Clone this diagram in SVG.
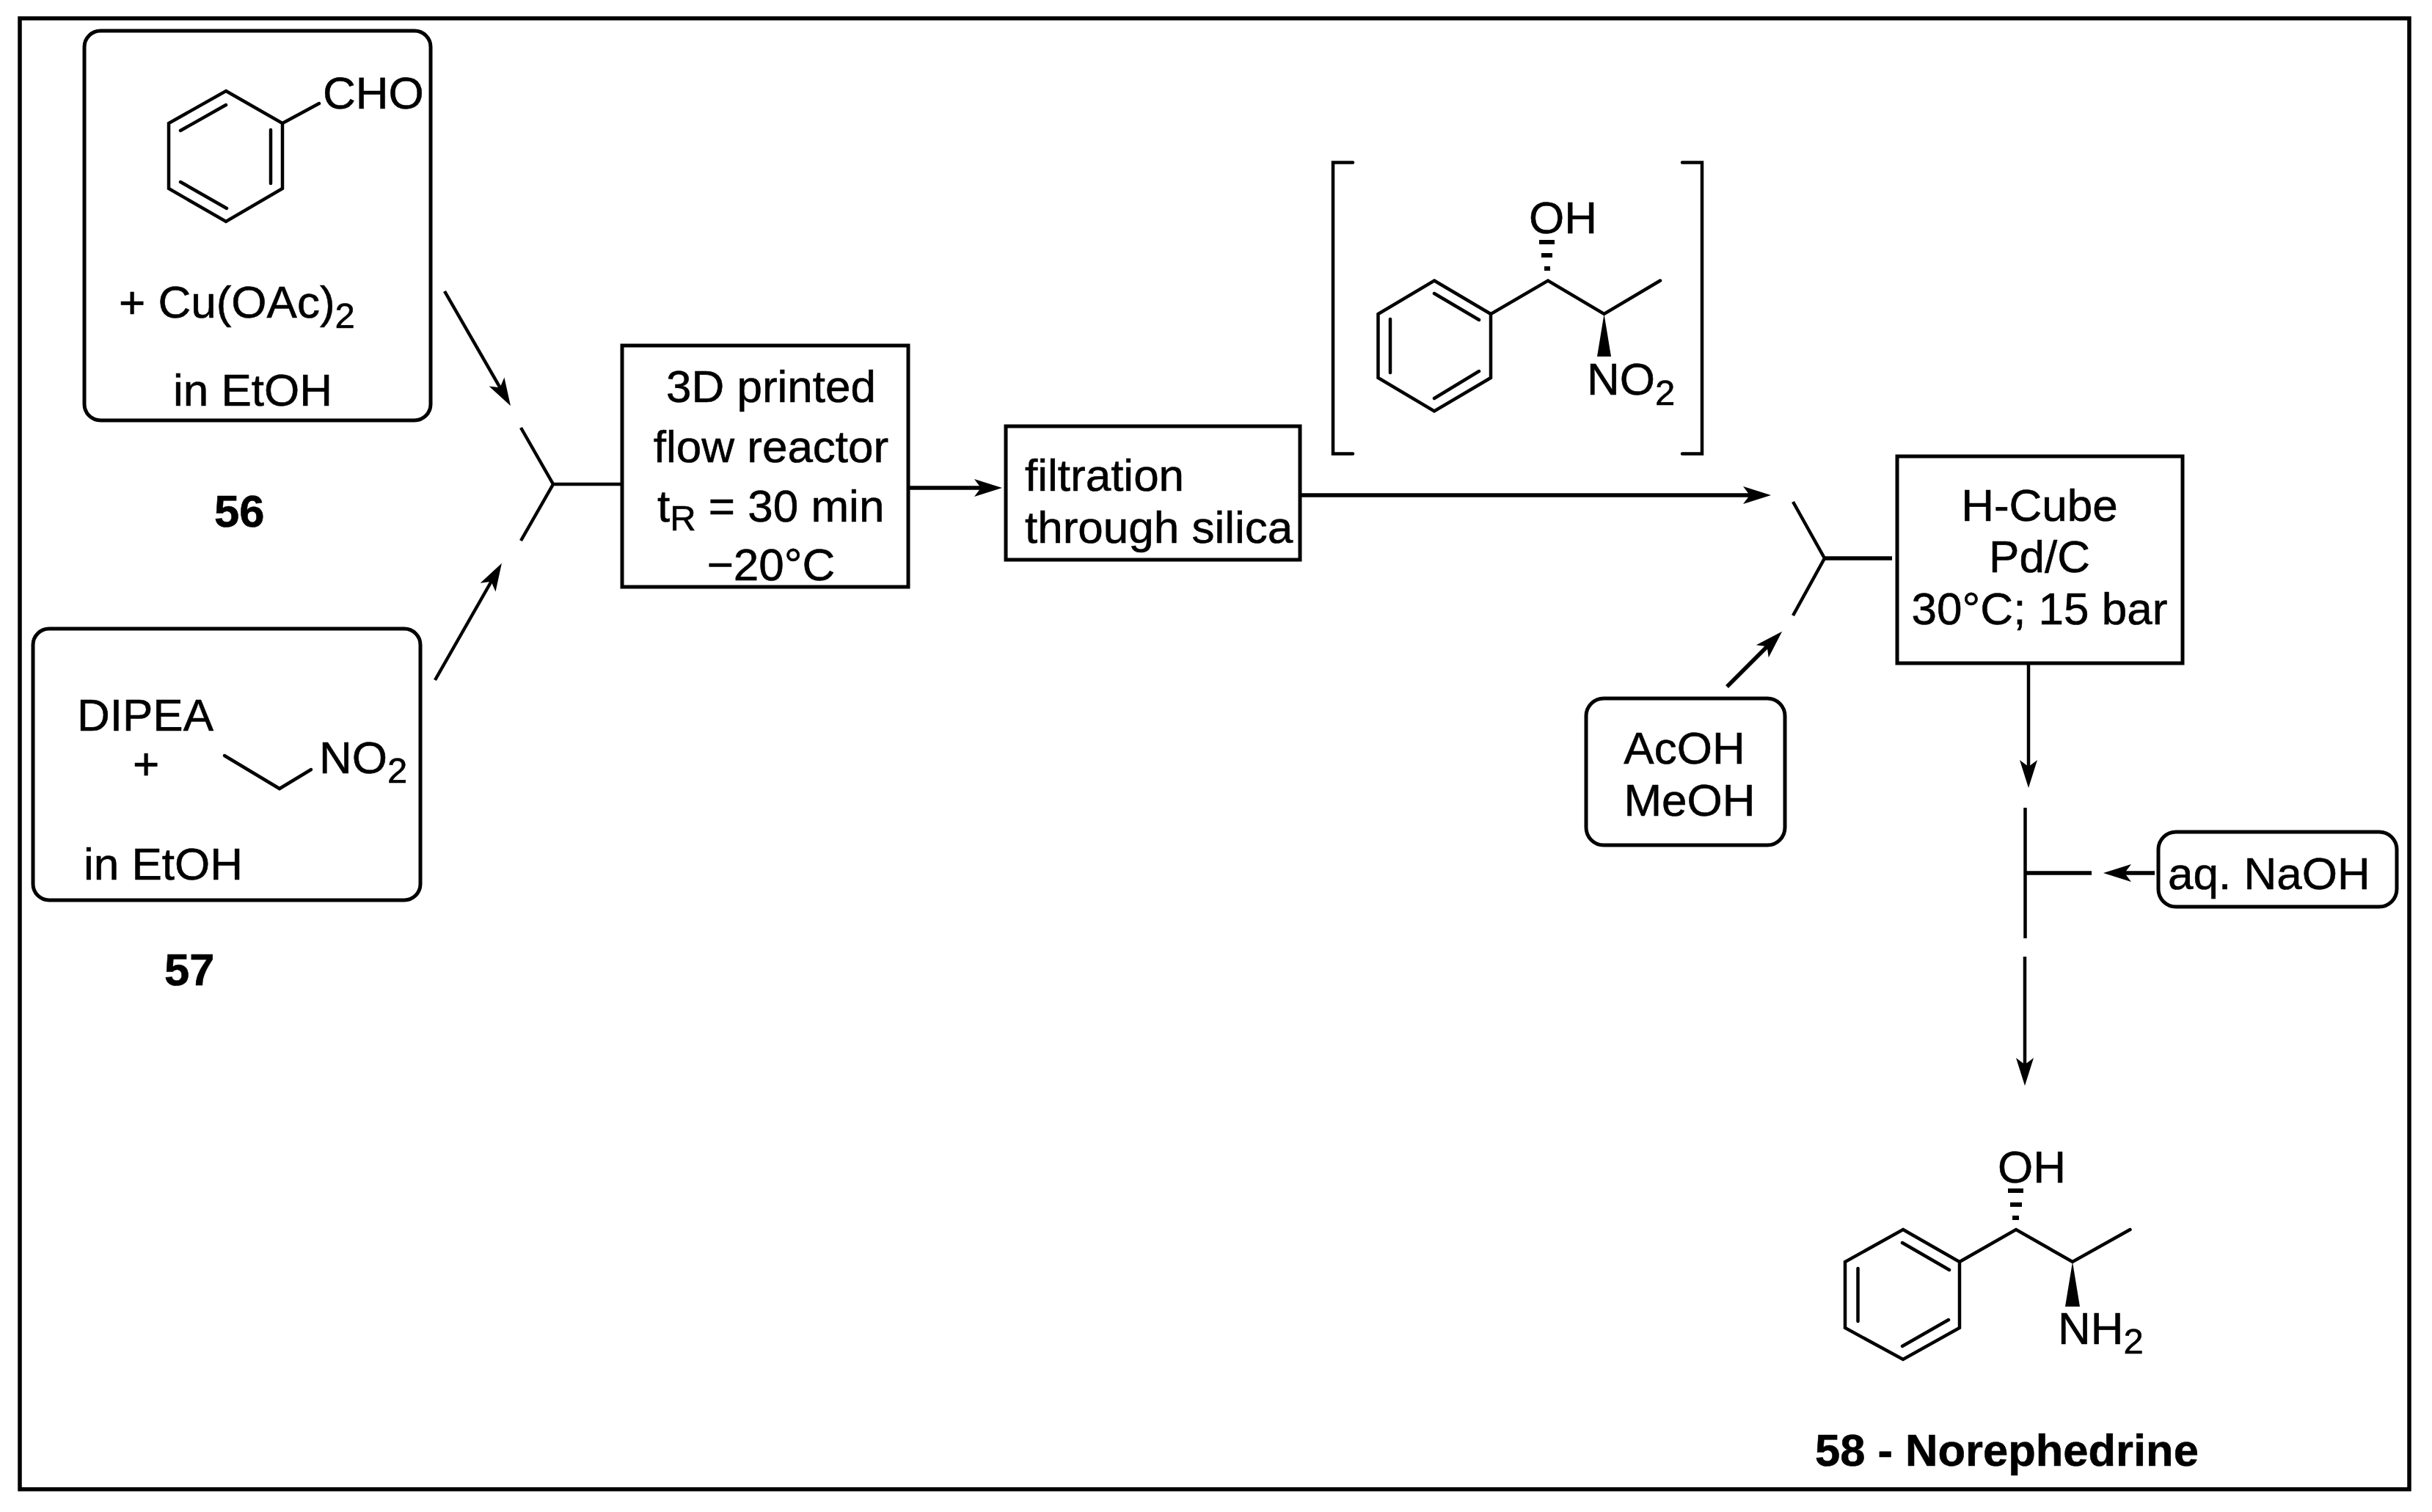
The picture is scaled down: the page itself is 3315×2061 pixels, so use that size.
<svg xmlns="http://www.w3.org/2000/svg" width="3315" height="2061" viewBox="0 0 3315 2061">
<style>
.box{fill:#fff;stroke:#000;stroke-width:5}
.bond{fill:none;stroke:#000;stroke-width:4.500;stroke-linejoin:miter;stroke-linecap:round}
.cn{fill:none;stroke:#000;stroke-width:4.500}
.thick{stroke-width:5.500}
.solid{fill:#000;stroke:none}
text{font-family:"Liberation Sans",Arial,sans-serif;font-size:62px;fill:#000;stroke:#000;stroke-width:.6}
.m{text-anchor:middle}
.b{font-weight:700;font-size:61.500px}
.s{font-size:49px}
</style>
<defs>
<marker id="arrow" markerUnits="userSpaceOnUse" viewBox="-2 -14 44 28" markerWidth="44" markerHeight="28" refX="18" refY="0" orient="auto">
<path d="M0,-12 L38,0 L0,12 L9,0 Z" fill="#000"/>
</marker>
</defs>
<rect width="3315" height="2061" fill="#fff"/>
<rect id="frame" x="27" y="25" width="3257" height="2005" fill="none" stroke="#000" stroke-width="5.500"/>

<g id="connectors">
<line class="cn" x1="606" y1="397" x2="686" y2="536" marker-end="url(#arrow)"/>
<line class="cn" x1="593" y1="927" x2="674" y2="785" marker-end="url(#arrow)"/>
<path class="cn" d="M710,583 L754,660 L710,737 M754,660 L848,660"/>
<line class="cn thick" x1="1232" y1="665" x2="1346" y2="665" marker-end="url(#arrow)"/>
<line class="cn thick" x1="1772" y1="675" x2="2394" y2="675" marker-end="url(#arrow)"/>
<path class="cn" d="M2444,684 L2487,761 L2444,839"/>
<path class="cn thick" d="M2487,761 L2579,761"/>
<line class="cn thick" x1="2354" y1="936" x2="2415" y2="875" marker-end="url(#arrow)"/>
<line class="cn" x1="2765" y1="900" x2="2765" y2="1054" marker-end="url(#arrow)"/>
<path class="cn" d="M2760.500,1101 V1279"/>
<path class="cn thick" d="M2760.500,1190 H2851"/>
<line class="cn thick" x1="2937" y1="1190" x2="2887" y2="1190" marker-end="url(#arrow)"/>
<line class="cn" x1="2760" y1="1304" x2="2760" y2="1460" marker-end="url(#arrow)"/>
</g>

<g id="node-56">
<rect class="box" x="115" y="42" width="472" height="531" rx="22"/>
<path class="bond" d="M308,124 L385,168 V257 L308,302 L230,257 V168 Z M246,178 L308,143 M369,177 V250 M246,248 L309,284 M385,168 L435,141"/>
<text x="440" y="148">CHO</text>
<text x="162" y="433">+ Cu(OAc)<tspan class="s" dy="14">2</tspan></text>
<text x="236" y="553">in EtOH</text>
</g>
<text id="label-56" class="b" x="292" y="718">56</text>

<g id="node-57">
<rect class="box" x="45" y="857" width="528" height="370" rx="22"/>
<text x="105" y="996">DIPEA</text>
<text x="181" y="1062">+</text>
<path class="bond" d="M306,1030 L381,1075 L424,1049"/>
<text x="435" y="1054">NO<tspan class="s" dy="13">2</tspan></text>
<text x="114" y="1199">in EtOH</text>
</g>
<text id="label-57" class="b" x="224" y="1343">57</text>

<g id="node-reactor">
<rect class="box" x="848" y="471" width="390" height="329"/>
<text class="m" x="1051" y="548">3D printed</text>
<text class="m" x="1051" y="630">flow reactor</text>
<text x="896" y="711">t<tspan class="s" dy="12">R</tspan><tspan dy="-12"> = 30 min</tspan></text>
<text class="m" x="1051" y="791">−20°C</text>
</g>

<g id="node-filtration">
<rect class="box" x="1371" y="581" width="401" height="182"/>
<text x="1397" y="669">filtration</text>
<text x="1397" y="740">through silica</text>
</g>

<g id="node-intermediate">
<path class="bond" d="M1844,221.500 H1817 V618.500 H1844 M2293,221.500 H2320 V618.500 H2293"/>
<path class="bond" d="M1955,382.500 L2032,428 V515 L1955,560.500 L1878.500,515 V428 Z M1955,400 L2016,436 M1895,435 V508 M1955,543 L2016,506 M2032,428 L2110,382.500 L2186.500,428 L2263,382.500"/>
<path class="solid" d="M2186.500,428 L2177,486 H2196 Z"/>
<path class="solid" d="M2098,327 H2119 V333 H2098 Z M2101,345 H2116 V351 H2101 Z M2105,363 H2113 V369 H2105 Z"/>
<text x="2084" y="318">OH</text>
<text x="2163" y="538">NO<tspan class="s" dy="14">2</tspan></text>
</g>

<g id="node-hcube">
<rect class="box" x="2586" y="622" width="389" height="282"/>
<text class="m" x="2780" y="710">H-Cube</text>
<text class="m" x="2780" y="780">Pd/C</text>
<text class="m" x="2780" y="851">30°C; 15 bar</text>
</g>

<g id="node-acoh">
<rect class="box" x="2162" y="952" width="271" height="200" rx="24"/>
<text class="m" x="2296" y="1041">AcOH</text>
<text class="m" x="2303" y="1112">MeOH</text>
</g>

<g id="node-naoh">
<rect class="box" x="2942" y="1134" width="325" height="102" rx="24"/>
<text x="2955" y="1212">aq. NaOH</text>
</g>

<g id="node-58">
<path class="bond" d="M2594,1676 L2671,1720 V1810 L2594,1853 L2515,1810 V1720 Z M2593,1694 L2657,1731 M2532.500,1729 V1801 M2593,1835 L2656,1799 M2671,1720 L2748,1676 L2825,1720 L2903.500,1676"/>
<path class="solid" d="M2825,1720 L2815,1781 H2835 Z"/>
<path class="solid" d="M2737,1620 H2758 V1626 H2737 Z M2740,1639 H2756 V1645 H2740 Z M2743,1657 H2752 V1663 H2743 Z"/>
<text x="2723" y="1612">OH</text>
<text x="2805" y="1832">NH<tspan class="s" dy="13">2</tspan></text>
<text class="b" x="2474" y="1998">58 - Norephedrine</text>
</g>
</svg>
